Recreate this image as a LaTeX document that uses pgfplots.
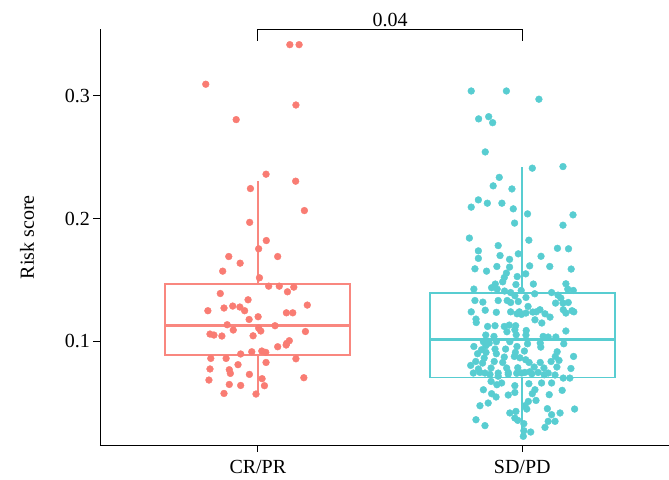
\documentclass[border=0pt]{standalone}
\usepackage{pgfplots}
\pgfplotsset{compat=1.18}
\usepgfplotslibrary{statistics}
\usepackage{fontspec}
\setmainfont{Liberation Serif}
\definecolor{salmon}{HTML}{F97C73}
\definecolor{salmonbox}{HTML}{F9877F}
\definecolor{teal}{HTML}{58CDD1}
\definecolor{tealbox}{HTML}{58CDD1}
\begin{document}
\begin{tikzpicture}[font=\fontsize{20bp}{24bp}\selectfont]
\begin{axis}[
  scale only axis,
  width=569bp, height=416bp,
  xmin=0.403, xmax=2.555,
  ymin=0.0155, ymax=0.354,
  axis x line*=bottom, axis y line*=left,
  axis line style={black, line width=0.8pt},
  tick align=outside, major tick length=6.5bp,
  tick style={black, line width=0.8pt},
  xtick={1,2}, xticklabels={CR/PR, SD/PD},
  ytick={0.1,0.2,0.3},
  yticklabel style={/pgf/number format/.cd, fixed, precision=1, assume math mode=true},
  ylabel={Risk score},
  ylabel style={at={(axis description cs:0,0.5)}, anchor=center, yshift=73bp},
  xticklabel style={yshift=-5bp},
  clip=false,
  boxplot/draw direction=y,
  boxplot/whisker extend=0,
  boxplot/every box/.style={line width=1.9bp},
  boxplot/every whisker/.style={line width=1.9bp},
  boxplot/every median/.style={line width=3.2bp},
]
% boxes
\addplot[salmonbox, solid, line width=1.9bp,
  boxplot prepared={lower whisker=0.0575, lower quartile=0.0889, median=0.1133,
    upper quartile=0.1467, upper whisker=0.2303, draw position=1, box extend=0.7}] coordinates {};
\addplot[tealbox, solid, line width=1.9bp,
  boxplot prepared={lower whisker=0.0225, lower quartile=0.0707, median=0.1014,
    upper quartile=0.1393, upper whisker=0.2418, draw position=2, box extend=0.7}] coordinates {};
% CR/PR points
\addplot[only marks, mark=*, mark size=3.4bp, color=salmon] coordinates {
(1.121,0.3415) (1.156,0.3415) (0.803,0.3093) (1.144,0.2924) (0.918,0.2805)
(1.031,0.2361) (1.143,0.2304) (0.972,0.2244) (1.176,0.2065) (0.969,0.1969)
(1.032,0.1821) (1.003,0.1754) (0.890,0.1691) (1.075,0.1691) (0.933,0.1637)
(0.867,0.1572) (1.006,0.1518) (1.041,0.1450) (1.081,0.1450) (1.136,0.1442)
(1.112,0.1404) (0.858,0.1390) (0.963,0.1339) (1.187,0.1296) (0.811,0.1250)
(0.872,0.1272) (0.905,0.1288) (0.932,0.1280) (0.950,0.1250) (1.108,0.1233)
(1.132,0.1233) (1.001,0.1201) (0.967,0.1179) (0.884,0.1136) (1.065,0.1128)
(1.003,0.1109) (1.011,0.1085) (0.907,0.1093) (0.819,0.1060) (0.834,0.1052)
(0.864,0.1044) (1.180,0.1081) (0.982,0.1046) (1.119,0.1006) (1.109,0.0984)
(1.107,0.0971) (1.075,0.0957) (0.935,0.0898) (0.977,0.0916) (1.015,0.0922)
(1.030,0.0911) (0.822,0.0862) (0.880,0.0862) (1.144,0.0859) (1.031,0.0829)
(0.925,0.0811) (0.819,0.0776) (0.892,0.0770) (0.896,0.0740) (0.968,0.0732)
(1.016,0.0697) (0.815,0.0686) (1.174,0.0705) (0.892,0.0650) (0.935,0.0642)
(1.025,0.0640) (0.872,0.0577) (0.993,0.0572)
};
% SD/PD points
\addplot[only marks, mark=*, mark size=3.4bp, color=teal] coordinates {
(1.807,0.3038) (1.940,0.3038) (2.063,0.2971) (1.835,0.2811) (1.873,0.2829)
(1.888,0.2780) (1.860,0.2542) (2.038,0.2410) (2.154,0.2423) (1.913,0.2335)
(1.890,0.2266) (1.961,0.2241) (1.834,0.2152) (1.807,0.2093) (1.868,0.2125)
(1.923,0.2125) (1.966,0.2079) (2.020,0.2038) (2.192,0.2030) (1.971,0.1963)
(2.154,0.1946) (1.800,0.1841) (2.025,0.1824) (1.909,0.1780) (2.133,0.1758)
(2.175,0.1754) (1.834,0.1737) (1.916,0.1699) (1.985,0.1713) (2.071,0.1693)
(1.834,0.1676) (1.952,0.1668) (1.821,0.1591) (1.865,0.1572) (1.904,0.1610)
(1.952,0.1605) (2.028,0.1615) (2.104,0.1610) (2.185,0.1589) (1.940,0.1556)
(1.932,0.1520) (1.981,0.1528) (2.013,0.1550) (1.926,0.1485) (1.898,0.1467)
(1.976,0.1463) (2.042,0.1467) (2.165,0.1469) (1.817,0.1426) (1.884,0.1437)
(1.905,0.1426) (1.933,0.1410) (1.956,0.1398) (1.996,0.1415) (2.172,0.1426)
(2.193,0.1415) (2.111,0.1398) (2.047,0.1388) (1.972,0.1372) (2.014,0.1358)
(2.135,0.1377) (2.146,0.1353) (1.821,0.1333) (1.851,0.1320) (1.909,0.1333)
(1.943,0.1333) (1.956,0.1317) (1.985,0.1325) (2.126,0.1312) (2.154,0.1312)
(2.174,0.1317) (2.022,0.1285) (1.807,0.1241) (1.860,0.1254) (1.902,0.1237)
(1.956,0.1241) (1.989,0.1241) (2.040,0.1239) (2.067,0.1258) (2.155,0.1258)
(2.188,0.1250) (1.980,0.1225) (1.997,0.1220) (2.014,0.1231) (2.053,0.1241)
(2.086,0.1225) (2.105,0.1198) (2.165,0.1231) (2.195,0.1241) (1.825,0.1182)
(1.826,0.1154) (1.869,0.1122) (1.897,0.1128) (1.932,0.1122) (1.951,0.1133)
(1.975,0.1128) (2.048,0.1176) (2.074,0.1150) (2.015,0.1089) (1.972,0.1095)
(1.942,0.1079) (2.165,0.1085) (1.862,0.1052) (1.893,0.1041) (1.977,0.1054)
(2.014,0.1052) (2.079,0.1041) (2.098,0.1036) (2.127,0.1036) (1.853,0.0998)
(1.875,0.0987) (1.902,0.0998) (1.953,0.0998) (2.020,0.0981) (2.068,0.0987)
(2.157,0.0981) (1.817,0.0959) (1.862,0.0965) (1.846,0.0933) (1.897,0.0938)
(1.937,0.0938) (1.980,0.0959) (2.070,0.0954) (1.831,0.0900) (1.863,0.0911)
(1.902,0.0900) (1.974,0.0911) (2.008,0.0922) (2.132,0.0916) (1.856,0.0865)
(1.932,0.0873) (1.970,0.0878) (1.991,0.0867) (2.013,0.0851) (2.125,0.0878)
(2.194,0.0878) (1.824,0.0837) (1.850,0.0824) (1.894,0.0837) (1.926,0.0829)
(2.026,0.0829) (2.068,0.0829) (2.109,0.0837) (2.139,0.0846) (1.805,0.0805)
(1.834,0.0776) (1.882,0.0784) (1.941,0.0784) (1.983,0.0786) (2.045,0.0792)
(2.082,0.0784) (2.131,0.0792) (2.184,0.0780) (1.859,0.0743) (1.909,0.0743)
(1.947,0.0748) (1.998,0.0743) (2.029,0.0754) (2.060,0.0748) (2.098,0.0743)
(1.815,0.0743) (1.840,0.0748) (1.878,0.0732) (1.909,0.0717) (1.947,0.0733)
(1.979,0.0741) (2.010,0.0748) (2.036,0.0737) (2.083,0.0729) (2.124,0.0727)
(2.155,0.0702) (2.180,0.0702) (1.882,0.0675) (1.904,0.0648) (1.922,0.0662)
(1.972,0.0640) (2.025,0.0656) (2.073,0.0662) (2.111,0.0662) (1.853,0.0607)
(1.884,0.0575) (1.901,0.0548) (1.947,0.0564) (1.972,0.0585) (2.048,0.0607)
(2.038,0.0575) (2.102,0.0567) (2.151,0.0602) (1.871,0.0499) (1.840,0.0477)
(2.023,0.0512) (2.052,0.0520) (2.010,0.0477) (2.017,0.0450) (2.095,0.0453)
(2.198,0.0450) (1.953,0.0418) (1.976,0.0431) (2.143,0.0418) (2.111,0.0404)
(1.972,0.0377) (1.983,0.0358) (1.825,0.0363) (2.124,0.0350) (2.098,0.0350)
(1.859,0.0315) (2.006,0.0331) (2.086,0.0301) (2.032,0.0263) (2.006,0.0274)
(2.004,0.0228)
};
% significance bracket
\addplot[black, line width=0.8pt, no marks] coordinates {(1,0.3447) (1,0.354) (2,0.354) (2,0.3447)};
\node[above, inner sep=2.5bp] at (axis cs:1.5,0.354) {0.04};
\end{axis}
\pgfresetboundingbox
\path ([xshift=-100bp,yshift=-34.3bp]current axis.south west) rectangle ([yshift=29.3bp]current axis.north east);
\end{tikzpicture}
\end{document}
